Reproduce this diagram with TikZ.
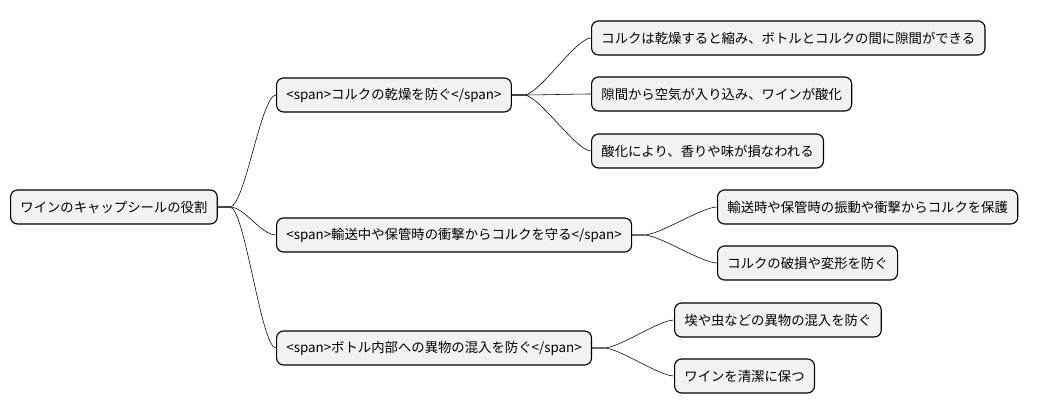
\documentclass[tikz,border=0pt]{standalone}
\usepackage{fontspec}
\setmainfont{Noto Sans CJK JP}
\begin{document}
\begin{tikzpicture}[x=0.025cm,y=-0.025cm,
	box/.style={rectangle,draw,thick,rounded corners=5pt,fill=gray!10,anchor=west,minimum height=0.85cm,inner xsep=7pt,font=\fontsize{9.5}{11}\selectfont},
	link/.style={draw,thin}]
			\useasboundingbox (0,0) rectangle (1041,415);
			\node at (10, 207)  [box] (root) {ワインのキャップシールの役割};

			\node at (276, 95)  [box] (dry)   {<span>コルクの乾燥を防ぐ</span>};
			\node at (276, 235) [box] (shock) {<span>輸送中や保管時の衝撃からコルクを守る</span>};
			\node at (276, 348) [box] (dirt)  {<span>ボトル内部への異物の混入を防ぐ</span>};

			\node at (591, 38)  [box] (dry1) {コルクは乾燥すると縮み、ボトルとコルクの間に隙間ができる};
			\node at (591, 94)  [box] (dry2) {隙間から空気が入り込み、ワインが酸化};
			\node at (591, 151) [box] (dry3) {酸化により、香りや味が損なわれる};
			\node at (717, 207) [box] (shock1) {輸送時や保管時の振動や衝撃からコルクを保護};
			\node at (717, 263) [box] (shock2) {コルクの破損や変形を防ぐ};
			\node at (674, 320) [box] (dirt1) {埃や虫などの異物の混入を防ぐ};
			\node at (674, 376) [box] (dirt2) {ワインを清潔に保つ};

			\foreach \a/\b in {root/dry,root/shock,root/dirt,dry/dry1,dry/dry2,dry/dry3,shock/shock1,shock/shock2,dirt/dirt1,dirt/dirt2}
				\draw[link] (\a.east) -- ++(12,0) .. controls +(15,0) and +(-15,0) .. (\b.west);
		\end{tikzpicture}
\end{document}
